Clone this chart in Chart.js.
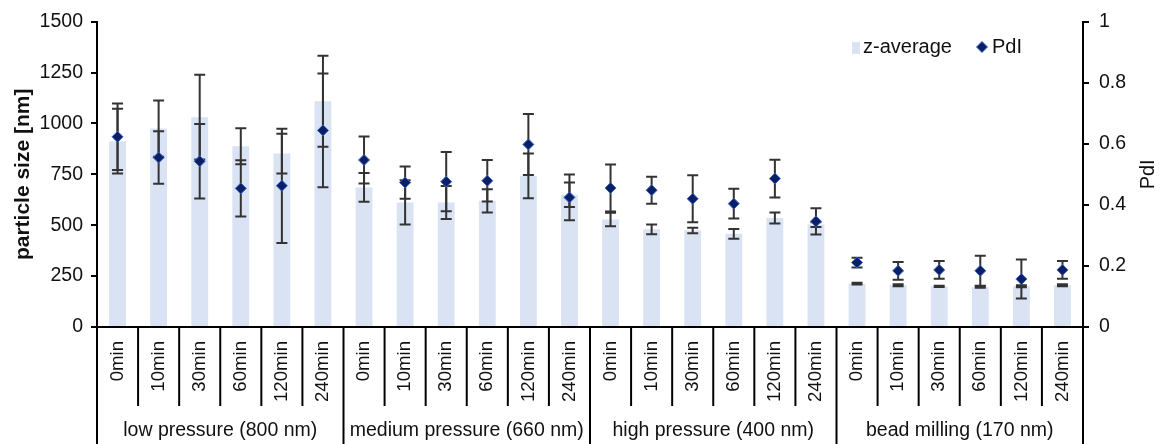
<!DOCTYPE html>
<html>
<head>
<meta charset="utf-8">
<script src="https://cdn.jsdelivr.net/npm/chart.js@4.4.1/dist/chart.umd.min.js"></script>
<style>
  html, body { margin: 0; padding: 0; background: #fff; }
  canvas { display: block; }
</style>
</head>
<body>
<canvas id="c" width="1160" height="444"></canvas>
<script>
// Process groups and sampling times
const groups = ['low pressure (800 nm)', 'medium pressure (660 nm)', 'high pressure (400 nm)', 'bead milling (170 nm)'];
const times = ['0min', '10min', '30min', '60min', '120min', '240min'];
const categories = groups.flatMap(() => times);

// z-average particle size [nm] and its standard deviation
const zAverage = [913, 975, 1031, 888, 852, 1109,
                  686, 612, 612, 620, 743, 650,
                  528, 480, 474, 458, 536, 503,
                  213, 205, 200, 197, 200, 205];
const zErr = [159, 138, 208, 88, 98, 224,
              71, 109, 81, 57, 110, 60,
              33, 24, 14, 24, 27, 12,
              4, 5, 3, 4, 5, 5];

// Polydispersity index and its standard deviation
const pdi = [0.623, 0.555, 0.543, 0.454, 0.4625, 0.644,
             0.547, 0.473, 0.476, 0.479, 0.598, 0.4245,
             0.455, 0.448, 0.420, 0.404, 0.486, 0.346,
             0.211, 0.184, 0.187, 0.184, 0.157, 0.187];
const pdiErr = [0.109, 0.086, 0.122, 0.092, 0.187, 0.186,
                0.077, 0.053, 0.097, 0.068, 0.100, 0.075,
                0.077, 0.044, 0.077, 0.049, 0.062, 0.043,
                0.016, 0.029, 0.029, 0.049, 0.064, 0.029];

// Axis ticks
const sizeTicks = { min: 0, max: 1500, step: 250 };
const pdiTicks = { min: 0, max: 1, step: 0.2 };

const BAR_COLOR = '#DAE3F3';
const POINT_FILL = '#0B1F66';
const POINT_EDGE = '#3A64C0';
const TEXT = '#111';
const FONT = 'Liberation Sans, Arial, sans-serif';

// Error bars, category separators, group labels, legend and the right-hand title
const overlay = {
  id: 'overlay',
  afterDatasetDraw(chart, args) {
    if (args.index !== 0) return;
    const ctx = chart.ctx;
    const ys = chart.scales.y, y1 = chart.scales.y1;
    const barMeta = chart.getDatasetMeta(0);
    const pdiMeta = chart.getDatasetMeta(1);
    ctx.save();
    ctx.strokeStyle = '#333';
    ctx.lineWidth = 2;
    const whisker = (x, top, bot) => {
      ctx.beginPath();
      ctx.moveTo(x, top); ctx.lineTo(x, bot);
      ctx.moveTo(x - 5.5, top); ctx.lineTo(x + 5.5, top);
      ctx.moveTo(x - 5.5, bot); ctx.lineTo(x + 5.5, bot);
      ctx.stroke();
    };
    zAverage.forEach((v, i) => whisker(barMeta.data[i].x,
      ys.getPixelForValue(v + zErr[i]), ys.getPixelForValue(v - zErr[i])));
    pdi.forEach((v, i) => whisker(pdiMeta.data[i].x,
      y1.getPixelForValue(v + pdiErr[i]), y1.getPixelForValue(v - pdiErr[i])));
    ctx.restore();
  },
  afterDraw(chart) {
    const ctx = chart.ctx;
    const xs = chart.scales.x;
    const area = chart.chartArea;
    const half = (xs.getPixelForValue(1) - xs.getPixelForValue(0)) / 2;
    const n = categories.length;
    const edge = k => (k < n ? xs.getPixelForValue(k) - half : xs.getPixelForValue(n - 1) + half);

    ctx.save();
    // separators under the axis
    ctx.strokeStyle = '#000';
    ctx.lineWidth = 2;
    for (let k = 0; k <= n; k++) {
      const x = edge(k);
      const bottom = k % times.length === 0 ? chart.height : 406;
      ctx.beginPath();
      ctx.moveTo(x, area.bottom);
      ctx.lineTo(x, bottom);
      ctx.stroke();
    }
    // group labels
    ctx.fillStyle = TEXT;
    ctx.font = '19.5px ' + FONT;
    ctx.textAlign = 'center';
    ctx.textBaseline = 'middle';
    groups.forEach((g, j) => {
      const a = edge(j * times.length), b = edge((j + 1) * times.length);
      ctx.fillText(g, (a + b) / 2, 431);
    });

    // legend
    const ds = chart.data.datasets;
    const ly = 47;
    ctx.fillStyle = BAR_COLOR;
    ctx.fillRect(852, ly - 5, 8, 12);
    ctx.fillStyle = TEXT;
    ctx.font = '20px ' + FONT;
    ctx.textAlign = 'left';
    ctx.fillText(ds[0].label, 863, ly);
    ctx.fillStyle = POINT_FILL;
    ctx.strokeStyle = POINT_EDGE;
    ctx.lineWidth = 1;
    Chart.helpers.drawPoint(ctx, { pointStyle: 'rectRot', radius: 5.5, borderWidth: 1 }, 982, ly);
    ctx.fillStyle = TEXT;
    ctx.fillText(ds[1].label, 992, ly);

    // right axis title
    ctx.translate(1148, (area.top + area.bottom) / 2);
    ctx.rotate(-Math.PI / 2);
    ctx.textAlign = 'center';
    ctx.font = '20px ' + FONT;
    ctx.fillText('PdI', 0, 0);
    ctx.restore();
  }
};

new Chart(document.getElementById('c'), {
  data: {
    labels: categories,
    datasets: [
      {
        type: 'bar',
        label: 'z-average',
        data: zAverage,
        yAxisID: 'y',
        backgroundColor: BAR_COLOR,
        borderWidth: 0,
        categoryPercentage: 1,
        barPercentage: 0.41,
        order: 2
      },
      {
        type: 'line',
        label: 'PdI',
        data: pdi,
        yAxisID: 'y1',
        showLine: false,
        pointStyle: 'rectRot',
        pointRadius: 5.5,
        pointBackgroundColor: POINT_FILL,
        pointBorderColor: POINT_EDGE,
        pointBorderWidth: 1,
        order: 1
      }
    ]
  },
  options: {
    responsive: false,
    animation: false,
    devicePixelRatio: 1,
    layout: { padding: { top: 20, left: 0, right: 0, bottom: 0 } },
    plugins: { legend: { display: false }, tooltip: { enabled: false } },
    scales: {
      x: {
        type: 'category',
        offset: true,
        grid: { display: false, drawTicks: false },
        border: { display: true, color: '#000', width: 2 },
        ticks: {
          autoSkip: false,
          minRotation: 90,
          maxRotation: 90,
          padding: 14,
          color: TEXT,
          font: { family: FONT, size: 18.6 }
        },
        afterFit: s => { s.height = 117; }
      },
      y: {
        position: 'left',
        min: sizeTicks.min,
        max: sizeTicks.max,
        ticks: {
          stepSize: sizeTicks.step, padding: 8, color: TEXT,
          font: { family: FONT, size: 19.5 },
          callback: v => String(v)
        },
        grid: { drawOnChartArea: false, drawTicks: true, tickLength: 6, color: '#000', lineWidth: 2 },
        border: { display: true, color: '#000', width: 2 },
        title: {
          display: true,
          text: 'particle size [nm]',
          color: TEXT,
          font: { family: FONT, size: 21, weight: 'bold' },
          padding: { top: 11, bottom: 0 }
        },
        afterFit: s => { s.width = 97; }
      },
      y1: {
        position: 'right',
        min: pdiTicks.min,
        max: pdiTicks.max,
        ticks: {
          stepSize: pdiTicks.step, padding: 10, color: TEXT,
          font: { family: FONT, size: 19.5 },
          callback: v => String(Math.round(v * 10) / 10)
        },
        grid: { drawOnChartArea: false, drawTicks: true, tickLength: 6, color: '#000', lineWidth: 2 },
        border: { display: true, color: '#000', width: 2 },
        afterFit: s => { s.width = 77; }
      }
    }
  },
  plugins: [overlay]
});
</script>
</body>
</html>
